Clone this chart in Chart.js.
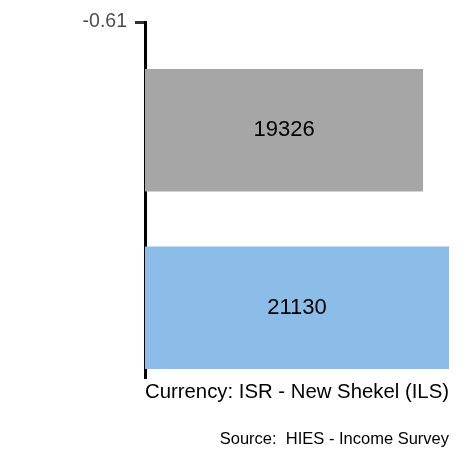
<!DOCTYPE html>
<html><head><meta charset="utf-8">
<script src="https://cdn.jsdelivr.net/npm/chart.js@4"></script>
<style>html,body{margin:0;padding:0;background:#fff}#w{width:472px;height:472px}</style>
</head><body><div id="w"><canvas id="c"></canvas></div>
<script>
const categories = ["Total", "Male", "Female"];
const values = [19326, 21130, 16028];
const colors = ["#a6a6a6", "#8cbde9", "#d5a8e2"];
const xTitle = "Currency: ISR - New Shekel (ILS)";
const caption = "Source:  HIES - Income Survey";

const labelPlugin = {
  id: 'lbl',
  afterDatasetsDraw(chart) {
    const ctx = chart.ctx;
    const meta = chart.getDatasetMeta(0);
    ctx.save();
    ctx.font = '22px "Liberation Sans", Arial, sans-serif';
    ctx.fillStyle = '#000';
    ctx.textAlign = 'center';
    ctx.textBaseline = 'middle';
    meta.data.forEach((b, i) => {
      const x = (b.base + b.x) / 2;
      ctx.fillText(String(values[i]), x, b.y);
    });
    ctx.font = '16.5px "Liberation Sans", Arial, sans-serif';
    ctx.textAlign = 'right';
    ctx.fillText(caption, 449, 439);
    ctx.restore();
  }
};

new Chart(document.getElementById('c'), {
  type: 'bar',
  data: { labels: categories, datasets: [{ data: values, backgroundColor: colors, barPercentage: 0.69, categoryPercentage: 1 }] },
  options: {
    indexAxis: 'y', responsive: true, maintainAspectRatio: false, animation: false,
    layout: { padding: { top: 22, right: 23, bottom: 63, left: 0 } },
    plugins: { legend: { display: false }, tooltip: { enabled: false } },
    scales: {
      x: {
        min: 0, max: 21130,
        ticks: { display: false },
        grid: { display: false },
        border: { display: false },
        title: { display: true, text: xTitle, color: '#000', font: { size: 20.5, family: '"Liberation Sans", Arial, sans-serif' }, padding: { top: 2, bottom: 4 } },
        afterFit(s) { s.height = 32; }
      },
      y: {
        offset: false,
        grid: { offset: false, drawOnChartArea: false, tickLength: 10, tickColor: '#333', lineWidth: 3 },
        border: { display: true, color: '#000', width: 3 },
        ticks: { color: '#4d4d4d', font: { size: 19.5, family: '"Liberation Sans", Arial, sans-serif' }, padding: 8 },
        afterBuildTicks(s) { s.min = -0.61; s.max = 2.61; },
        afterFit(s) { s.width = 145; }
      }
    }
  },
  plugins: [labelPlugin]
});
</script></body></html>
